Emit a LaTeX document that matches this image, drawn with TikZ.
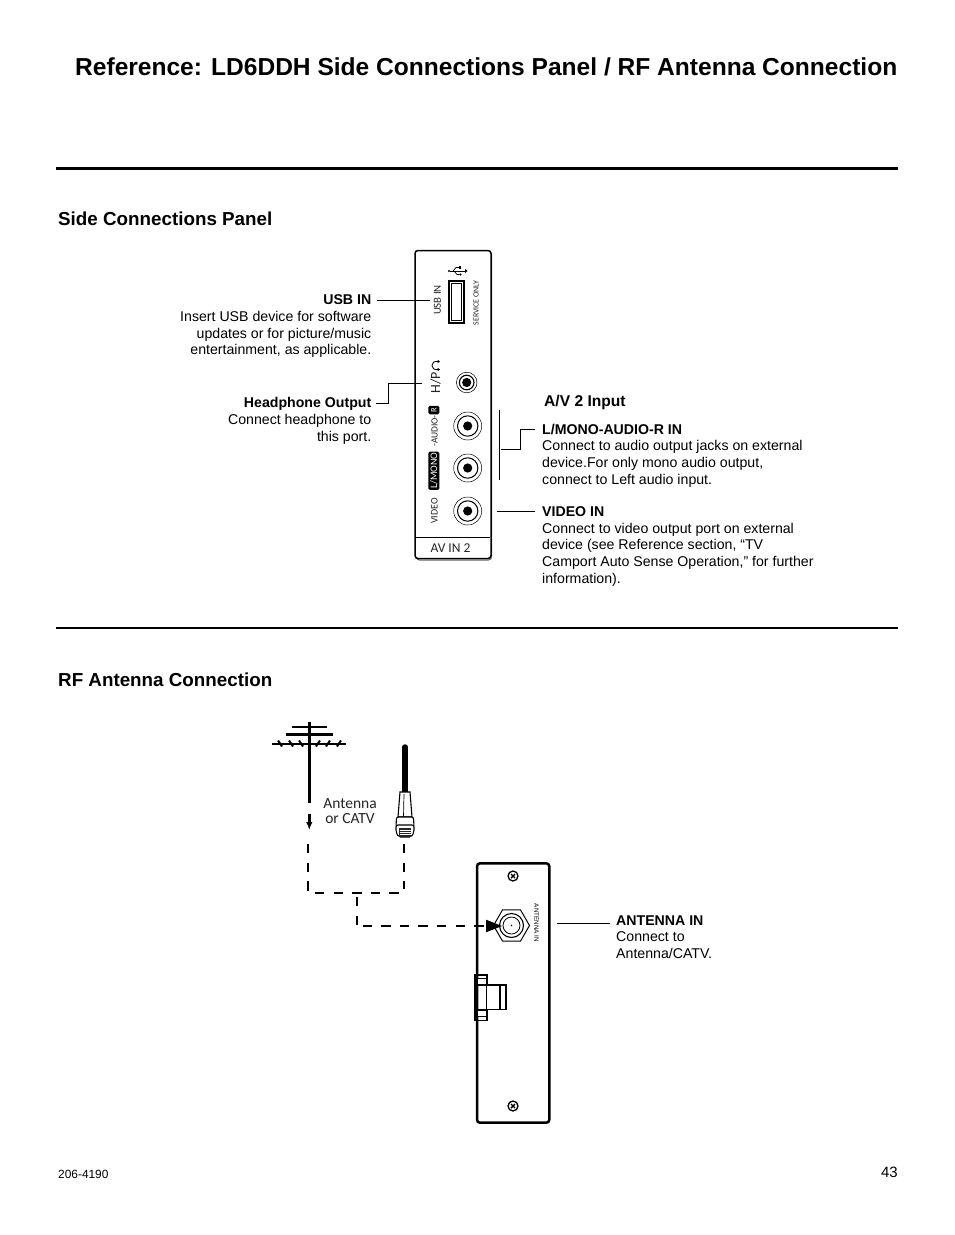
\documentclass[tikz,border=0pt]{standalone}
\usepackage{fontspec}
\setmainfont{Liberation Sans}
\newfontfamily\panelfont{Carlito}
\usetikzlibrary{arrows.meta,calc,shapes.geometric}
\tikzset{
 head/.style={anchor=west,font=\bfseries\fontsize{18.8}{22}\selectfont,inner sep=0pt},
 note/.style={font=\fontsize{14.15}{16.8}\selectfont,inner sep=0pt,align=left,anchor=north west},
 noter/.style={font=\fontsize{14.15}{16.8}\selectfont,inner sep=0pt,align=right,anchor=north east},
 lead/.style={line width=0.9pt,black},
 rule/.style={line width=2pt,black},
 panel/.style={line width=1.5pt,rounded corners=3pt,draw=black,fill=white},
 ptxt/.style={font=\panelfont\fontsize{10}{12}\selectfont,inner sep=0pt,rotate=90,text=black!85},
 dashline/.style={line width=2pt,dash pattern=on 9.3pt off 9.3pt},
}
\newcommand{\jack}[1]{%
 \draw[line width=0.5pt,fill=white] (#1) circle[radius=14];
 \draw[line width=1pt,fill=white] (#1) circle[radius=10.2];
 \fill (#1) circle[radius=4.6];}
\newcommand{\screw}[1]{%
 \draw[line width=1.3pt,fill=white] (#1) circle[radius=5];
 \draw[line width=1.4pt] ($(#1)+(-2,-2)$)--($(#1)+(2,2)$);
 \draw[line width=1.4pt] ($(#1)+(-2,2)$)--($(#1)+(2,-2)$);}
\begin{document}
\begin{tikzpicture}[x=1pt,y=-1pt]
\useasboundingbox (0,0) rectangle (954,1235);
\fill[white] (0,0) rectangle (954,1235);
\node[anchor=west,inner sep=0pt,font=\bfseries\fontsize{24.55}{30}\selectfont] (title) at (75,67) {Reference: LD6DDH Side Connections Panel / RF Antenna Connection};
\coordinate (r1a) at (56,168.5); \coordinate (r1b) at (898,168.5);
\draw[line width=3pt] (r1a)--(r1b);
\coordinate (r2a) at (56,628); \coordinate (r2b) at (898,628);
\draw[rule] (r2a)--(r2b);
\node[head] (h1) at (58,219) {Side Connections Panel};
\node[head] (h2) at (58,680) {RF Antenna Connection};

% side panel
\draw[line width=1pt,black!60,rounded corners=3pt] (416.5,252) rectangle (491.5,560);
\draw[panel] (415,250.5) rectangle (491,558.5);
\coordinate (pl) at (415.7,537); \coordinate (pr) at (490.3,537);
\draw[line width=1pt] (pl)--(pr);
\node[inner sep=0pt,font=\panelfont\fontsize{13.5}{15}\selectfont,text=black!85] (avin) at (450.5,548) {AV IN 2};
% USB
\node[draw,line width=1.2pt,minimum width=15pt,minimum height=42pt,inner sep=0pt] (usbport) at (456.5,302) {};
\node[draw,line width=0.9pt,minimum width=10pt,minimum height=37pt,inner sep=0pt,fill=white] (usbin) at (456.5,302) {};
\draw[line width=0.8pt] (449.5,271)--(465,271);
\fill (449,271) circle[radius=1.2];
\draw[line width=0.7pt] (453,271)--(456,267.5)--(459,267.5);
\fill (459,266.3) rectangle (461.2,268.7);
\draw[line width=0.7pt] (454,271)--(457,274.5)--(459.5,274.5);
\fill (460.5,274.5) circle[radius=1.2];
\fill (465,269)--(467.5,271)--(465,273)--cycle;
\node[ptxt,font=\panelfont\fontsize{10.8}{12}\selectfont] (usbt) at (437.5,300) {USB IN};
\node[ptxt,font=\panelfont\fontsize{7.9}{9}\selectfont] (svc) at (476,303) {SERVICE ONLY};
% H/P
\node[ptxt,font=\panelfont\fontsize{14}{16}\selectfont] (hp) at (435.5,382.5) {H/P};
\draw[line width=0.9pt] (438,361.5) .. controls (430,360) and (430,371) .. (438,369.5);
\fill (438.2,361.5) ellipse[x radius=1.8,y radius=1.3];
\fill (438.2,369.5) ellipse[x radius=1.8,y radius=1.3];
\coordinate (jh) at (466.7,382.5);
\draw[line width=0.5pt,fill=white] (jh) circle[radius=10.3];
\draw[line width=1.1pt,fill=white] (jh) circle[radius=7.3];
\fill (jh) circle[radius=4.6];
\coordinate (jr) at (467.7,426);
\coordinate (jl) at (467.7,468);
\coordinate (jv) at (467.7,511);
\jack{jr}\jack{jl}\jack{jv}
\node[inner sep=0pt,fill=black,rounded corners=1.5pt,minimum width=11pt,minimum height=8.5pt] (rbox) at (433.8,410) {};
\node[inner sep=0pt,font=\panelfont\fontsize{8.5}{9}\selectfont,text=white,rotate=90] (rt) at (434,410) {R};
\node[ptxt,fill=black,text=white,rounded corners=1.5pt,minimum height=11pt,minimum width=38.3pt,font=\panelfont\fontsize{10}{12}\selectfont] (lm) at (433.8,470.8) {L/MONO};
\node[ptxt,font=\panelfont\fontsize{9.5}{11}\selectfont] (aud) at (434.5,431) {-AUDIO-};
\node[ptxt] (vid) at (434.5,511) {VIDEO};

% callouts
\node[noter] (usbn) at (371.5,294.5) {\textbf{USB IN}\\Insert USB device for software\\updates or for picture/music\\entertainment, as applicable.};
\coordinate (usbl) at (376.5,300);
\coordinate (usbe) at (430,300);
\draw[lead] (usbl)--(usbe);
\node[noter] (hpn) at (371.5,397.3) {\textbf{Headphone Output}\\Connect headphone to\\this port.};
\coordinate (hpa) at (376,403); \coordinate (hpb) at (388,383.3); \coordinate (hpc) at (421.7,383.3);
\draw[lead] (hpa)-|(hpb)--(hpc);
\node[anchor=west,inner sep=0pt,font=\bfseries\fontsize{15.6}{18}\selectfont] (av) at (544,402) {A/V 2 Input};
\coordinate (b1) at (499.3,410); \coordinate (b2) at (499.3,480);
\draw[lead] (b1)--(b2);
\coordinate (c1) at (535,429.3); \coordinate (c2) at (520,429.3); \coordinate (c3) at (520,449); \coordinate (c4) at (501,449);
\draw[lead] (c4)--(c3)--(c2)--(c1);
\node[note] (lmn) at (542,423.7) {\textbf{L/MONO-AUDIO-R IN}\\Connect to audio output jacks on external\\device.For only mono audio output,\\connect to Left audio input.};
\coordinate (va) at (497,511); \coordinate (vb) at (535,511);
\draw[lead] (va)--(vb);
\node[note] (vn) at (542,506.2) {\textbf{VIDEO IN}\\Connect to video output port on external\\device (see Reference section, “TV\\Camport Auto Sense Operation,” for further\\information).};

% antenna
\coordinate (mt) at (309.3,722); \coordinate (mb) at (309.3,803);
\draw[line width=2.8pt] (mt)--(mb);
\draw[line width=1.6pt] (292,726.7)--(327,726.7);
\draw[line width=3pt] (286,734.3)--(333,734.3);
\draw[line width=1.7pt] (272,743.7)--(346,743.7);
\foreach \x in {280,291,301}{
  \draw[line width=2pt] (\x-2,740.5) -- (\x+2,746.5);
}
\foreach \x in {318,328,339}{
  \draw[line width=2pt] (\x+2,740.5) -- (\x-2,746.5);
}
\coordinate (af) at (309.3,814);
\coordinate (at) at (309.3,830);
\draw[line width=2.4pt,-{Latex[length=8pt,width=6.5pt]}] (af)--(at);
\node[inner sep=0pt,align=center,font=\panelfont\fontsize{15.5}{15}\selectfont,text=black!85] (ant) at (350,811) {Antenna\\or CATV};
% cable
\draw[line width=5.5pt,line cap=round] (405,747)--(405,793);
\draw[line width=1.1pt,fill=white] (400,792)--(410,792)--(412,817)--(398,817)--cycle;
\draw[line width=0.7pt] (404,794)--(403.5,817);
\draw[line width=1.1pt,fill=white,rounded corners=2pt] (396.5,817)--(413.5,817)--(414,827)--(396,827)--cycle;
\draw[line width=1.1pt,fill=white,rounded corners=2pt] (396,825)--(414,825)--(414,832)--(411.5,837)--(398.5,837)--(396,832)--cycle;
\fill[black!85] (399,828) rectangle (411,837);
\foreach \y in {830,832,834}{\draw[white,line width=0.6pt] (399.5,\y)--(410.5,\y);}
% dashed
\coordinate (d1) at (308,844);
\coordinate (d2) at (308,892);
\draw[dashline] (d1)--(d2);
\coordinate (d3) at (315,892.7);
\coordinate (d4) at (400,892.7);
\draw[dashline] (d3)--(d4);
\coordinate (d5) at (404.3,844);
\coordinate (d6) at (404.3,889);
\draw[dashline] (d5)--(d6);
\coordinate (d7) at (357,897);
\coordinate (d8) at (357,925);
\draw[dashline] (d7)--(d8);
% back plate
\draw[line width=2.5pt,fill=white,rounded corners=3pt] (477,863.3)--(549.3,863.3)--(549.3,1122.7)--(477,1122.7)--cycle;
\coordinate (d9) at (362.6,926);
\coordinate (d10) at (486,926);
\draw[dashline] (d9)--(d10);
\coordinate (s1) at (513,876); \coordinate (s2) at (513,1106);
\screw{s1}\screw{s2}
\node[regular polygon,regular polygon sides=6,draw,line width=1pt,minimum size=36pt,inner sep=0pt,fill=white] (hex) at (511.5,925.5) {};
\coordinate (hc) at (511.5,925.5);
\draw[line width=1.1pt,fill=white] (hc) circle[radius=12];
\draw[line width=0.8pt] (hc) circle[radius=8.5];
\fill (hc) circle[radius=0.9];
\fill (486,919.7)--(502,926)--(486,932.3)--cycle;
\node[inner sep=0pt,rotate=-90,font=\fontsize{6.3}{7}\selectfont] (anti) at (536.5,923) {ANTENNA IN};
\draw[line width=1.8pt] (475,975) rectangle (487,1020.5);
\draw[line width=1.2pt,fill=white] (477.5,978.5) rectangle (487,985);
\draw[line width=1.2pt,fill=white] (477.5,1010) rectangle (487,1016.7);
\draw[line width=1.5pt,fill=white] (487,985)--(506,985)--(506,1009.5)--(487,1009.5);
\draw[line width=1.2pt] (500,985)--(500,1009.5);
\coordinate (aa) at (557,923); \coordinate (ab) at (610,923);
\draw[lead] (aa)--(ab);
\node[note] (antn) at (616,915.2) {\textbf{ANTENNA IN}\\Connect to\\Antenna/CATV.};
% footer
\node[anchor=west,inner sep=0pt,font=\fontsize{11.9}{14}\selectfont] (code) at (58,1174) {206-4190};
\node[anchor=east,inner sep=0pt,font=\fontsize{15}{18}\selectfont] (pg) at (898,1172.5) {43};
\end{tikzpicture}
\end{document}
